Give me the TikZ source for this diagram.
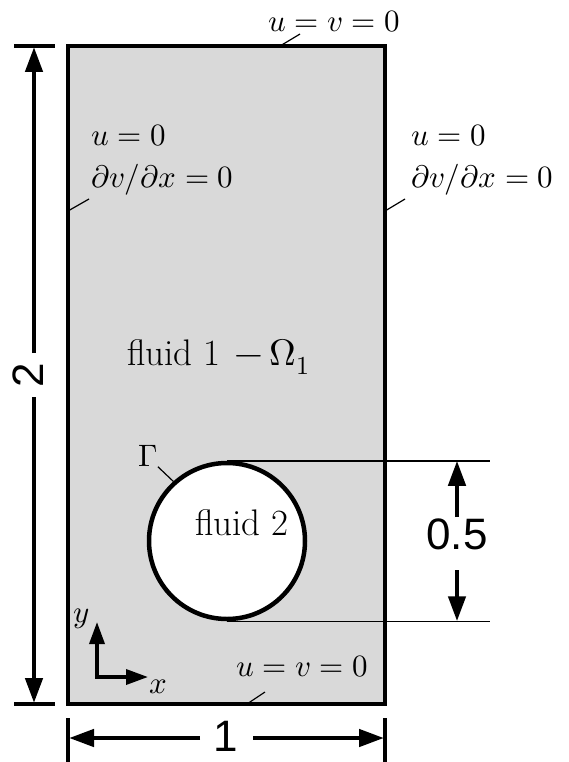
\documentclass[tikz,border=0pt]{standalone}
\usepackage{fontspec}
\usepackage{unicode-math}
\setmainfont{Latin Modern Roman}
\setmathfont{Latin Modern Math}
\newfontfamily\dimfont{Liberation Sans}
\usetikzlibrary{arrows.meta}

\begin{document}
\begin{tikzpicture}[
  x=1pt, y=-1pt,
  fluidbox/.style = {
    rectangle, draw, line width=3.5pt, fill=black!15,
    minimum width=317pt, minimum height=658pt, inner sep=0pt
  },
  drop/.style = {
    circle, draw, line width=4.5pt, fill=white,
    minimum size=156pt, inner sep=0pt
  },
  bc/.style = {
    font=\fontsize{31}{42}\selectfont, align=left, inner sep=1pt
  },
  fluidlabel/.style = {
    font=\fontsize{37}{42}\selectfont, inner sep=0pt
  },
  dimlabel/.style = {
    font=\dimfont\fontsize{44}{44}\selectfont, inner sep=0pt
  },
  dimtick/.style = {line width=4pt},
  dimarrow/.style = {
    line width=4.5pt, -{Triangle[length=25pt,width=17pt]}
  },
  axis/.style = {
    line width=3.5pt, line join=miter,
    {Triangle[length=22pt,width=15pt]}-{Triangle[length=22pt,width=15pt]}
  },
  leader/.style = {line width=1.2pt},
  extline/.style = {line width=1.5pt}
]

\useasboundingbox (0,0) rectangle (568,762);

% ====== DOMAIN AND BUBBLE ======
\node[fluidbox] (box) at (226.5,375) {};
\node[drop] (bubble) at (227,541) {};
\node[fluidlabel] (fluidtwo) at (242,523) {fluid 2};
\node[fluidlabel, anchor=base west] (fluidone) at (127,365)
  {fluid 1\hspace{14pt}$-$\hspace{6pt}$\Omega_1$};
\node[bc, inner sep=0pt] (gamma) at (148,456) {$\Gamma$};

% ====== BOUNDARY CONDITIONS ======
\node[bc] (bctop) at (334,22) {$u=v=0$};
\node[bc] (bcbottom) at (302,667) {$u=v=0$};
\node[bc, anchor=west] (bcleft) at (90,160) {$u=0$\\$\partial v/\partial x = 0$};
\node[bc, anchor=west] (bcright) at (410,160) {$u=0$\\$\partial v/\partial x = 0$};

% leader ends
\coordinate (ltop) at (280,46);
\coordinate (lbot) at (247,704);
\coordinate (lleft) at (68,211);
\coordinate (lright) at (385,211);

\draw[leader] (ltop) -- (300,34);
\draw[leader] (lbot) -- (265,692);
\draw[leader] (lleft) -- (89,199);
\draw[leader] (lright) -- (405,199);
\draw[leader] (gamma.south east) -- (bubble.132);

% ====== AXES ======
\coordinate (ytip) at (97,622);
\coordinate (xtip) at (148,677);
\draw[axis] (ytip) |- (xtip);
\node[bc] (ylab) at (82,619) {$y$};
\node[bc] (xlab) at (158,687) {$x$};

% ====== DIMENSION: HEIGHT ======
\draw[dimtick] (14,46) -- (55,46);
\draw[dimtick] (14,704) -- (55,704);
\node[dimlabel, rotate=90] (two) at (28,375) {2};
\coordinate (hup) at (34,353);
\coordinate (hdown) at (34,397);
\draw[dimarrow] (hup) -- (34,47);
\draw[dimarrow] (hdown) -- (34,703);

% ====== DIMENSION: WIDTH ======
\draw[dimtick] (68,718) -- (68,770);
\draw[dimtick] (385,718) -- (385,770);
\node[dimlabel] (one) at (226,736) {1};
\coordinate (wleft) at (200,738);
\coordinate (wright) at (253,738);
\draw[dimarrow] (wleft) -- (69,738);
\draw[dimarrow] (wright) -- (384,738);

% ====== DIMENSION: DIAMETER ======
\coordinate (ext) at (490,0);
\draw[extline] (bubble.north) -- (bubble.north -| ext);
\draw[extline] (bubble.south) -- (bubble.south -| ext);
\node[dimlabel] (half) at (457,534) {0.5};
\coordinate (dup) at (457,517);
\coordinate (ddown) at (457,570);
\draw[dimarrow] (dup) -- (dup |- bubble.north);
\draw[dimarrow] (ddown) -- (ddown |- bubble.south);

\end{tikzpicture}
\end{document}
